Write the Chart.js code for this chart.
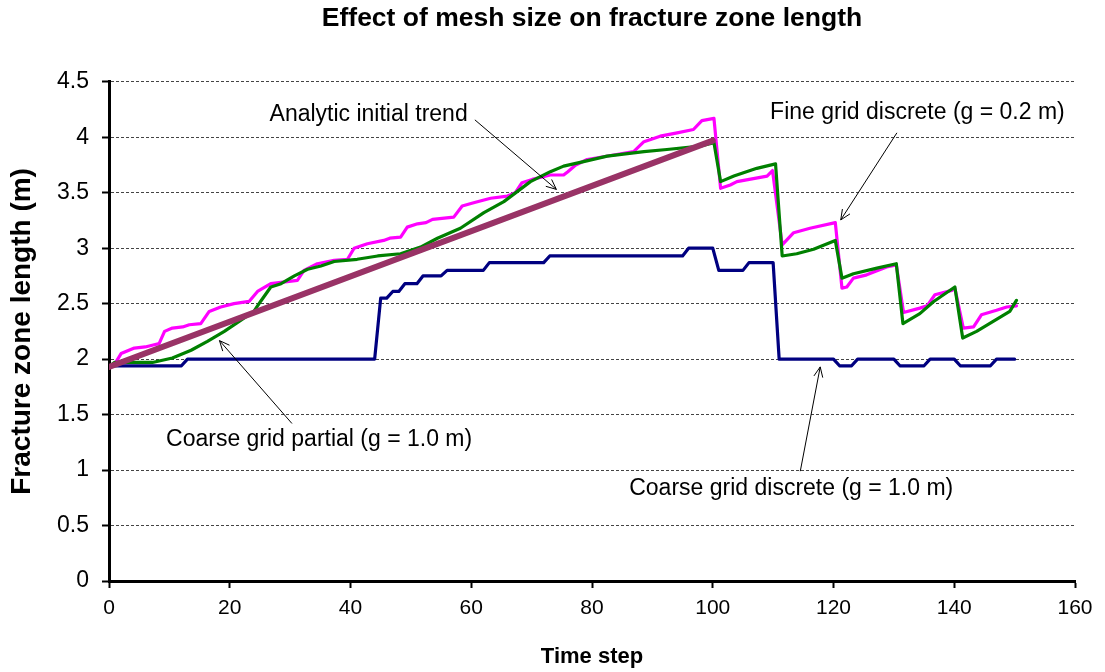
<!DOCTYPE html>
<html>
<head>
<meta charset="utf-8">
<script src="https://cdn.jsdelivr.net/npm/chart.js@4.4.1/dist/chart.umd.min.js"></script>
<style>
  html, body { margin: 0; padding: 0; background: #ffffff; }
  #wrap { width: 1105px; height: 672px; }
</style>
</head>
<body>
<div id="wrap"><canvas id="c" width="1105" height="672"></canvas></div>
<script>
// ---- Data ----
const xTicks = [0, 20, 40, 60, 80, 100, 120, 140, 160];
const yTicks = [0, 0.5, 1, 1.5, 2, 2.5, 3, 3.5, 4, 4.5];

const coarseDiscreteX = [0, 12, 13, 44, 45, 46, 47, 48, 49, 51, 52, 55, 56, 62, 63, 72, 73, 95, 96, 100, 101, 105, 106, 110, 111, 120, 121, 123, 124, 130, 131, 135, 136, 140, 141, 146, 147, 150];
const coarseDiscreteY = [1.94, 1.94, 2.0, 2.0, 2.55, 2.55, 2.61, 2.61, 2.68, 2.68, 2.75, 2.75, 2.80, 2.80, 2.87, 2.87, 2.93, 2.93, 3.0, 3.0, 2.80, 2.80, 2.87, 2.87, 2.0, 2.0, 1.94, 1.94, 2.0, 2.0, 1.94, 1.94, 2.0, 2.0, 1.94, 1.94, 2.0, 2.0];

const fineX = [0, 1, 2, 4.2, 6, 7.5, 8.3, 9.2, 10.5, 12.2, 13.3, 15.2, 16.6, 18.5, 20.7, 23.2, 24.6, 26.8, 31.2, 32.3, 34.5, 37.3, 39.5, 40.6, 42.8, 45.5, 46.5, 48.3, 49.4, 51.1, 52.5, 53.6, 57.1, 58.5, 60.4, 63.2, 66.0, 67.3, 68.4, 70.1, 73.1, 75.3, 76.0, 77.3, 79.2, 83.6, 86.9, 88.6, 91.3, 94.1, 96.8, 98.2, 100.2, 101.3, 102.9, 104.0, 109.0, 109.9, 111.5, 113.4, 116.1, 120.3, 121.4, 122.2, 123.3, 125.5, 128.8, 130.4, 131.6, 134.3, 135.5, 136.8, 139.6, 140.1, 141.5, 143.2, 144.5, 147.0, 148.7, 150.3];
const fineY = [1.93, 1.96, 2.05, 2.10, 2.11, 2.13, 2.14, 2.25, 2.28, 2.29, 2.31, 2.32, 2.43, 2.47, 2.50, 2.52, 2.61, 2.68, 2.71, 2.80, 2.86, 2.89, 2.90, 3.00, 3.04, 3.07, 3.09, 3.10, 3.19, 3.22, 3.23, 3.26, 3.28, 3.38, 3.41, 3.45, 3.47, 3.50, 3.59, 3.62, 3.66, 3.66, 3.69, 3.75, 3.80, 3.84, 3.87, 3.96, 4.01, 4.04, 4.07, 4.15, 4.17, 3.54, 3.57, 3.60, 3.65, 3.70, 3.03, 3.14, 3.18, 3.23, 2.64, 2.65, 2.73, 2.76, 2.83, 2.85, 2.42, 2.46, 2.48, 2.58, 2.62, 2.64, 2.28, 2.29, 2.40, 2.44, 2.47, 2.48];

const coarsePartialX = [0, 0.9, 7.2, 10.5, 13.6, 16.3, 19.1, 21.8, 24.0, 25.1, 26.8, 28.5, 30.7, 32.9, 35.1, 37.3, 41.1, 44.5, 48.3, 51.6, 54.4, 58.2, 62.1, 65.4, 67.6, 69.8, 73.1, 75.3, 78.6, 82.5, 88.6, 92.4, 97.9, 100.2, 101.3, 103.5, 107.3, 110.4, 111.5, 113.9, 116.7, 120.3, 121.4, 123.3, 127.2, 130.4, 131.5, 134.3, 136.6, 140.1, 141.4, 143.7, 149.2, 150.3];
const coarsePartialY = [1.93, 1.97, 1.97, 2.01, 2.08, 2.16, 2.25, 2.35, 2.43, 2.52, 2.65, 2.68, 2.75, 2.81, 2.84, 2.88, 2.90, 2.93, 2.95, 3.01, 3.09, 3.18, 3.32, 3.42, 3.51, 3.60, 3.69, 3.74, 3.78, 3.83, 3.87, 3.89, 3.92, 3.95, 3.60, 3.65, 3.72, 3.76, 2.93, 2.95, 2.99, 3.07, 2.73, 2.77, 2.82, 2.86, 2.32, 2.41, 2.52, 2.65, 2.19, 2.25, 2.43, 2.53];

const analyticX = [0, 100];
const analyticY = [1.93, 3.97];

// Annotation labels (data units)
const noteTexts = ["Analytic initial trend", "Fine grid discrete (g = 0.2 m)", "Coarse grid partial (g = 1.0 m)", "Coarse grid discrete (g = 1.0 m)"];
const noteTextX = [43.0, 133.9, 34.8, 113.0];
const noteTextY = [4.20, 4.22, 1.27, 0.83];
const arrowFromX = [60.6, 130.5, 30.3, 114.5];
const arrowFromY = [4.157, 4.04, 1.42, 0.99];
const arrowToX = [74.1, 121.2, 18.3, 117.8];
const arrowToY = [3.53, 3.255, 2.167, 1.93];

// ---- Build chart ----
const FONT = '"Liberation Sans", Arial, Helvetica, sans-serif';
Chart.defaults.font.family = FONT;
Chart.defaults.color = '#000000';

function pts(xs, ys) { return xs.map((x, i) => ({ x: x, y: ys[i] })); }

const annotationPlugin = {
  id: 'notes',
  afterDatasetsDraw(chart) {
    const ctx = chart.ctx;
    const xs = chart.scales.x, ys = chart.scales.y;
    ctx.save();
    ctx.fillStyle = '#000';
    ctx.strokeStyle = '#000';
    ctx.lineWidth = 1;
    ctx.font = '23px ' + FONT;
    ctx.textAlign = 'center';
    ctx.textBaseline = 'middle';
    for (let i = 0; i < noteTexts.length; i++) {
      ctx.fillText(noteTexts[i], xs.getPixelForValue(noteTextX[i]), ys.getPixelForValue(noteTextY[i]));
      const x1 = xs.getPixelForValue(arrowFromX[i]), y1 = ys.getPixelForValue(arrowFromY[i]);
      const x2 = xs.getPixelForValue(arrowToX[i]), y2 = ys.getPixelForValue(arrowToY[i]);
      ctx.beginPath();
      ctx.moveTo(x1, y1); ctx.lineTo(x2, y2);
      const a = Math.atan2(y2 - y1, x2 - x1);
      const L = 11, w = 0.42;
      ctx.moveTo(x2 - L * Math.cos(a - w), y2 - L * Math.sin(a - w));
      ctx.lineTo(x2, y2);
      ctx.lineTo(x2 - L * Math.cos(a + w), y2 - L * Math.sin(a + w));
      ctx.stroke();
    }
    ctx.restore();
  }
};

const common = { pointRadius: 0, pointHoverRadius: 0, tension: 0, fill: false, borderJoinStyle: 'round', borderCapStyle: 'round' };

new Chart(document.getElementById('c'), {
  type: 'line',
  data: {
    datasets: [
      Object.assign({ label: 'Analytic initial trend', data: pts(analyticX, analyticY), borderColor: '#993366', borderWidth: 6, order: 0 }, common),
      Object.assign({ label: 'Coarse grid partial (g = 1.0 m)', data: pts(coarsePartialX, coarsePartialY), borderColor: '#008000', borderWidth: 3.2, order: 1 }, common),
      Object.assign({ label: 'Fine grid discrete (g = 0.2 m)', data: pts(fineX, fineY), borderColor: '#FF00FF', borderWidth: 3.2, order: 2 }, common),
      Object.assign({ label: 'Coarse grid discrete (g = 1.0 m)', data: pts(coarseDiscreteX, coarseDiscreteY), borderColor: '#000080', borderWidth: 3.2, order: 3 }, common)
    ]
  },
  options: {
    responsive: false,
    animation: false,
    devicePixelRatio: 1,
    layout: { padding: { left: 0, right: 30, top: 0, bottom: 0 } },
    plugins: {
      legend: { display: false },
      tooltip: { enabled: false },
      title: {
        display: true,
        fullSize: false,
        text: 'Effect of mesh size on fracture zone length',
        color: '#000',
        font: { size: 26.5, weight: 'bold', family: FONT },
        padding: { top: 3, bottom: 47 }
      }
    },
    scales: {
      x: {
        type: 'linear', min: 0, max: 160,
        afterBuildTicks: (s) => { s.ticks = xTicks.map(v => ({ value: v })); },
        afterFit: (s) => { s.height = 91; },
        ticks: { font: { size: 21 }, color: '#000', padding: 8, maxRotation: 0, callback: (v) => String(v) },
        grid: { drawOnChartArea: false, drawTicks: true, tickLength: 7, tickColor: '#000', tickWidth: 2 },
        border: { display: true, color: '#000', width: 3 },
        title: { display: true, text: 'Time step', color: '#000', font: { size: 22, weight: 'bold' }, padding: { top: 0, bottom: 2 } }
      },
      y: {
        type: 'linear', min: 0, max: 4.5,
        afterBuildTicks: (s) => { s.ticks = yTicks.map(v => ({ value: v })); },
        afterFit: (s) => { s.width = 109; },
        ticks: { font: { size: 23 }, color: '#000', padding: 13, callback: (v) => String(v) },
        grid: {
          drawOnChartArea: true, drawTicks: true, tickLength: 7, tickColor: '#000', tickWidth: 2,
          color: (c) => (c.tick && c.tick.value === 0 ? 'rgba(0,0,0,0)' : '#444444'),
          lineWidth: 1
        },
        border: { display: true, color: '#000', width: 3, dash: [3, 2] },
        title: { display: true, text: 'Fracture zone length (m)', color: '#000', font: { size: 28, weight: 'bold' }, padding: { top: 5, bottom: 0 } }
      }
    }
  },
  plugins: [annotationPlugin]
});
</script>
</body>
</html>
